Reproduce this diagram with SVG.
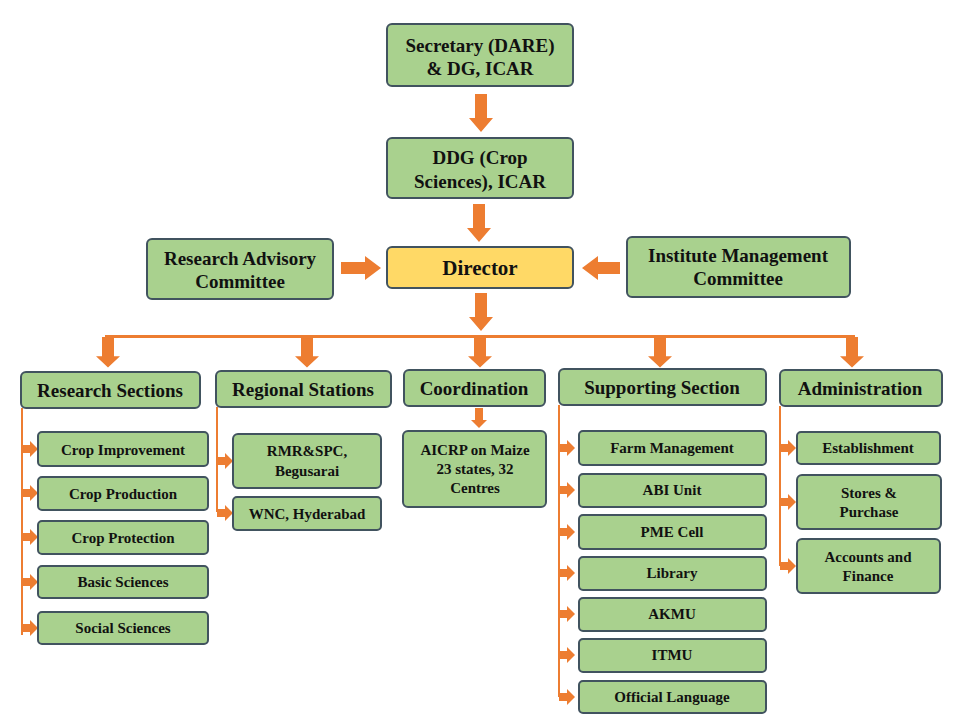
<svg xmlns="http://www.w3.org/2000/svg" width="960" height="720" viewBox="0 0 960 720">
<style>
.b{fill:#a9d18e;stroke:#41535f;stroke-width:2}
.d{fill:#ffd966;stroke:#41535f;stroke-width:2}
text{font-family:"Liberation Serif","DejaVu Serif",serif;font-weight:bold;fill:#111;text-anchor:middle}
.h{font-size:19px}
.s{font-size:15px}
.l{stroke:#ed7d31;stroke-width:2;fill:none}
.a{fill:#ed7d31}
</style>
<defs>
<path id="bd" d="M-6,0H6V24H12L0,38L-12,24H-6Z"/>
<path id="bs" d="M-4,0H4V12H8L0,20L-8,12H-4Z"/>
<path id="br" d="M0,-4H8V-8L16,0L8,8V4H0Z"/>
</defs>
<g id="connectors" class="a">
<use href="#bd" x="481" y="94"/>
<use href="#bd" x="479" y="204"/>
<use href="#bd" x="481" y="293"/>
<path d="M341,262H365V256L381,268L365,280V274H341Z"/>
<path d="M620,262H598V256L582,268L598,280V274H620Z"/>
<rect x="105" y="335" width="750" height="3"/>
<g transform="translate(0,337) scale(1,0.8) translate(0,-337)">
<use href="#bd" x="108" y="337"/><use href="#bd" x="307" y="337"/><use href="#bd" x="480" y="337"/><use href="#bd" x="660" y="337"/><use href="#bd" x="852" y="337"/>
</g>
<use href="#bs" x="479" y="408"/>
<path class="l" d="M22,408V635M217,407V512M559,405V697M780,406V566"/>
<use href="#br" x="22" y="449"/><use href="#br" x="22" y="493"/><use href="#br" x="22" y="537"/><use href="#br" x="22" y="582"/><use href="#br" x="22" y="628"/>
<use href="#br" x="217" y="461"/><use href="#br" x="217" y="513"/>
<use href="#br" x="559" y="448"/><use href="#br" x="559" y="490"/><use href="#br" x="559" y="532"/><use href="#br" x="559" y="573"/><use href="#br" x="559" y="614"/><use href="#br" x="559" y="655"/><use href="#br" x="559" y="697"/>
<use href="#br" x="780" y="448"/><use href="#br" x="780" y="502"/><use href="#br" x="780" y="566"/>
</g>
<g id="secretary"><rect class="b" x="387" y="24" width="186" height="62" rx="5"/><text class="h" x="480" y="52">Secretary (DARE)</text><text class="h" x="480" y="75">&amp; DG, ICAR</text></g>
<g id="ddg"><rect class="b" x="387" y="138" width="186" height="60" rx="5"/><text class="h" x="480" y="164">DDG (Crop</text><text class="h" x="480" y="188">Sciences), ICAR</text></g>
<g id="director"><rect class="d" x="387" y="247" width="186" height="41" rx="5"/><text x="480" y="275" font-size="21">Director</text></g>
<g id="rac"><rect class="b" x="147" y="239" width="186" height="60" rx="5"/><text class="h" x="240" y="265">Research Advisory</text><text class="h" x="240" y="288">Committee</text></g>
<g id="imc"><rect class="b" x="627" y="237" width="223" height="60" rx="5"/><text class="h" x="738" y="262">Institute Management</text><text class="h" x="738" y="285">Committee</text></g>
<g id="research"><rect class="b" x="21" y="372" width="179" height="36" rx="5"/><text class="h" x="110" y="397">Research Sections</text></g>
<g id="regional"><rect class="b" x="216" y="371" width="175" height="36" rx="5"/><text class="h" x="303" y="396">Regional Stations</text></g>
<g id="coordination"><rect class="b" x="404" y="370" width="141" height="36" rx="5"/><text class="h" x="474" y="395">Coordination</text></g>
<g id="supporting"><rect class="b" x="559" y="369" width="207" height="36" rx="5"/><text class="h" x="662" y="394">Supporting Section</text></g>
<g id="administration"><rect class="b" x="780" y="370" width="162" height="36" rx="5"/><text class="h" x="860" y="395">Administration</text></g>
<g id="crop-improvement"><rect class="b" x="38" y="432" width="170" height="34" rx="4"/><text class="s" x="123" y="455">Crop Improvement</text></g>
<g id="crop-production"><rect class="b" x="38" y="477" width="170" height="33" rx="4"/><text class="s" x="123" y="499">Crop Production</text></g>
<g id="crop-protection"><rect class="b" x="38" y="521" width="170" height="33" rx="4"/><text class="s" x="123" y="543">Crop Protection</text></g>
<g id="basic-sciences"><rect class="b" x="38" y="566" width="170" height="32" rx="4"/><text class="s" x="123" y="587">Basic Sciences</text></g>
<g id="social-sciences"><rect class="b" x="38" y="612" width="170" height="32" rx="4"/><text class="s" x="123" y="633">Social Sciences</text></g>
<g id="rmr"><rect class="b" x="233" y="434" width="148" height="54" rx="5"/><text class="s" x="307" y="456">RMR&amp;SPC,</text><text class="s" x="307" y="476">Begusarai</text></g>
<g id="wnc"><rect class="b" x="233" y="497" width="148" height="33" rx="4"/><text class="s" x="307" y="519">WNC, Hyderabad</text></g>
<g id="aicrp"><rect class="b" x="403" y="431" width="143" height="76" rx="5"/><text class="s" x="475" y="455">AICRP on Maize</text><text class="s" x="475" y="474">23 states, 32</text><text class="s" x="475" y="493">Centres</text></g>
<g id="farm"><rect class="b" x="579" y="431" width="187" height="34" rx="4"/><text class="s" x="672" y="453">Farm Management</text></g>
<g id="abi"><rect class="b" x="579" y="474" width="187" height="33" rx="4"/><text class="s" x="672" y="495">ABI Unit</text></g>
<g id="pme"><rect class="b" x="579" y="515" width="187" height="34" rx="4"/><text class="s" x="672" y="537">PME Cell</text></g>
<g id="library"><rect class="b" x="579" y="557" width="187" height="33" rx="4"/><text class="s" x="672" y="578">Library</text></g>
<g id="akmu"><rect class="b" x="579" y="598" width="187" height="33" rx="4"/><text class="s" x="672" y="619">AKMU</text></g>
<g id="itmu"><rect class="b" x="579" y="639" width="187" height="33" rx="4"/><text class="s" x="672" y="660">ITMU</text></g>
<g id="official"><rect class="b" x="579" y="681" width="187" height="32" rx="4"/><text class="s" x="672" y="702">Official Language</text></g>
<g id="establishment"><rect class="b" x="797" y="432" width="143" height="32" rx="4"/><text class="s" x="868" y="453">Establishment</text></g>
<g id="stores"><rect class="b" x="797" y="475" width="144" height="54" rx="5"/><text class="s" x="869" y="498">Stores &amp;</text><text class="s" x="869" y="517">Purchase</text></g>
<g id="accounts"><rect class="b" x="797" y="539" width="143" height="54" rx="5"/><text class="s" x="868" y="562">Accounts and</text><text class="s" x="868" y="581">Finance</text></g>
</svg>
